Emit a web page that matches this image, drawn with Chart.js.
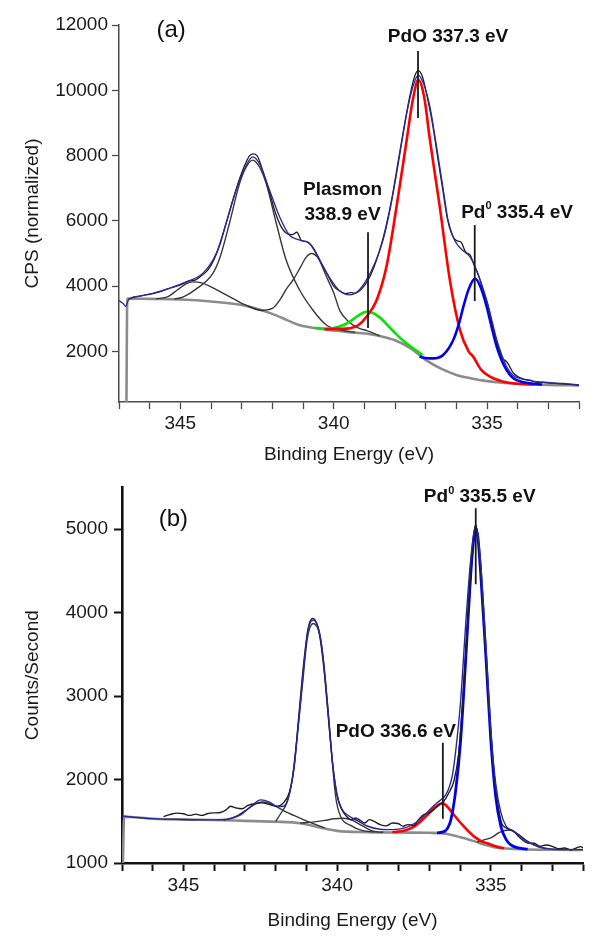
<!DOCTYPE html>
<html>
<head>
<meta charset="utf-8">
<script src="https://cdn.jsdelivr.net/npm/chart.js@4"></script>
<style>
  html, body { margin: 0; padding: 0; background: #fff; }
  #wrap { position: relative; width: 600px; height: 950px; }
  #chartA { position: absolute; left: 0; top: 0; }
  #chartB { position: absolute; left: 0; top: 470px; }
</style>
</head>
<body>
<div id="wrap">
  <canvas id="chartA" width="600" height="470"></canvas>
  <canvas id="chartB" width="600" height="480"></canvas>
</div>
<script>
// ============================================================
// Pd 3d XPS fits, (a) and (b)   -  [eV, counts] pairs
// ============================================================

// ── shared axis values ─────────────────────────────────────
const xTicks  = [347, 346, 345, 344, 343, 342, 341, 340, 339, 338, 337, 336, 335, 334, 333, 332];
const xLabels = [345, 340, 335];
const yTicksA = [2000, 4000, 6000, 8000, 10000, 12000];
const yTicksB = [1000, 2000, 3000, 4000, 5000];

// ── panel (a) ──────────────────────────────────────────────
const rawA = [[346.7,3600],[346.5,3660],[346.2,3720],[345.9,3770],[345.6,3850],[345.3,3950],[345.0,4040],[344.7,4160],[344.5,4190],[344.3,4330],[344.1,4500],[343.9,4820],[343.7,5300],[343.5,5950],[343.3,6600],[343.1,7200],[342.9,7700],[342.75,7980],[342.64,8050],[342.5,8000],[342.3,7500],[342.1,6900],[341.9,6250],[341.7,5800],[341.5,5600],[341.35,5580],[341.2,5650],[341.05,5400],[340.85,5350],[340.65,5150],[340.4,4700],[340.2,4350],[340.0,4000],[339.8,3850],[339.6,3770],[339.45,3800],[339.3,3780],[339.1,3900],[338.9,4150],[338.7,4550],[338.5,5100],[338.3,5800],[338.1,6700],[337.9,7800],[337.7,8900],[337.5,9900],[337.35,10450],[337.24,10600],[337.1,10400],[336.95,9800],[336.8,9100],[336.6,7900],[336.45,7000],[336.3,6100],[336.15,5600],[336.0,5400],[335.85,5350],[335.7,5050],[335.55,4950],[335.4,4600],[335.25,4250],[335.1,3800],[334.95,3350],[334.8,2700],[334.65,2200],[334.5,1780],[334.4,1720],[334.3,1600],[334.15,1350],[334.0,1230],[333.8,1150],[333.6,1120],[333.4,1060],[333.2,1050],[333.0,1040],[332.7,1010],[332.4,1000],[332.0,960]];
const envA = [[347.0,3560],[346.85,3450],[346.78,3380],[346.7,3560],[346.6,3640],[346.3,3700],[345.9,3780],[345.36,3930],[344.81,4130],[344.27,4390],[343.83,5000],[343.51,5920],[343.18,6940],[342.85,7700],[342.64,7960],[342.42,7750],[342.09,6940],[341.76,6120],[341.44,5560],[341.11,5410],[340.78,5300],[340.46,4800],[340.16,4300],[339.8,3850],[339.48,3730],[339.2,3850],[338.93,4190],[338.66,4700],[338.39,5410],[338.15,6400],[337.95,7450],[337.78,8400],[337.62,9280],[337.42,10100],[337.24,10460],[337.05,10150],[336.86,9490],[336.7,8600],[336.54,7650],[336.4,6800],[336.27,6020],[336.1,5500],[335.99,5300],[335.8,5100],[335.56,4900],[335.34,4490],[335.17,4050],[335.01,3570],[334.84,2950],[334.68,2350],[334.52,1900],[334.36,1530],[334.15,1270],[333.92,1170],[333.38,1070],[332.5,1020],[332.01,970]];
const bgA = [[346.76,0],[346.73,3620],[346.0,3610],[345.0,3590],[344.0,3530],[343.0,3420],[342.0,3150],[341.5,2950],[341.1,2800],[340.5,2700],[340.0,2640],[339.5,2590],[338.9,2540],[338.5,2470],[338.0,2340],[337.5,2100],[337.0,1740],[336.5,1470],[336.0,1280],[335.5,1170],[335.0,1090],[334.5,1040],[334.0,1010],[333.0,975],[332.0,960]];
const peakA1 = [[345.8,3610],[345.4,3680],[345.1,3880],[344.8,4080],[344.6,4130],[344.3,4100],[344.0,3980],[343.6,3780],[343.2,3580],[342.9,3430],[342.6,3320],[342.3,3240]];
const peakA2 = [[345.2,3600],[344.9,3670],[344.5,3900],[343.94,4390],[343.7,4900],[343.4,5920],[343.07,7140],[342.85,7650],[342.64,7860],[342.42,7650],[342.2,7140],[341.87,5920],[341.55,4800],[341.11,3880],[340.68,3270],[340.24,2810],[339.8,2660],[339.3,2585]];
const peakA3 = [[342.8,3380],[342.4,3260],[342.0,3320],[341.76,3570],[341.55,3900],[341.33,4180],[341.1,4550],[340.9,4880],[340.73,5000],[340.5,4850],[340.24,4300],[340.0,3800],[339.8,3250],[339.5,2900],[339.2,2720],[338.9,2630],[338.5,2480]];
const plasmonA = [[340.6,2720],[340.3,2700],[340.0,2720],[339.7,2800],[339.4,2960],[339.15,3130],[338.93,3215],[338.7,3170],[338.45,3000],[338.2,2760],[337.95,2520],[337.7,2300],[337.4,2090],[337.1,1890]];
const pdoA = [[340.3,2680],[339.8,2690],[339.48,2705],[339.2,2800],[338.93,3060],[338.6,3570],[338.28,4590],[337.95,6430],[337.62,8470],[337.42,9700],[337.24,10320],[337.05,9800],[336.86,8470],[336.54,6430],[336.21,4180],[335.88,2650],[335.6,2000],[335.45,1840],[335.2,1450],[334.9,1225],[334.46,1070],[334.0,1010],[333.5,990]];
const pd0A = [[337.2,1840],[336.95,1790],[336.75,1785],[336.43,1890],[336.1,2350],[335.9,2900],[335.77,3370],[335.6,3900],[335.39,4235],[335.2,3950],[335.01,3370],[334.85,2750],[334.68,2140],[334.52,1720],[334.36,1430],[334.2,1230],[334.03,1120],[333.6,1020],[333.2,985]];
// marker lines: [eV, top, bottom]
const marksA = [[337.25, 11200, 9150], [338.88, 5650, 2720], [335.4, 5870, 3540]];
// notes: [parts (odd = superscript), eV, counts]
const notesA = [[['PdO 337.3 eV'], 336.27, 11650], [['Plasmon'], 339.71, 6940], [['338.9 eV'], 339.71, 6200], [['Pd', '0', ' 335.4 eV'], 334.02, 6260]];
const tagA = ['(a)', 345.3, 11830];

// ── panel (b) ──────────────────────────────────────────────
const rawB = [[345.65,1556],[345.45,1580],[345.2,1598],[345.0,1590],[344.8,1570],[344.6,1585],[344.4,1570],[344.23,1590],[344.0,1600],[343.8,1605],[343.6,1640],[343.47,1680],[343.3,1660],[343.1,1650],[342.9,1690],[342.7,1710],[342.45,1720],[342.2,1700],[341.95,1680],[341.75,1720],[341.55,1850],[341.4,2150],[341.25,2750],[341.1,3350],[340.95,3800],[340.8,3930],[340.62,3820],[340.45,3400],[340.3,2800],[340.15,2200],[340.0,1800],[339.85,1640],[339.7,1560],[339.55,1520],[339.4,1540],[339.25,1510],[339.1,1480],[338.95,1520],[338.8,1500],[338.6,1460],[338.4,1445],[338.2,1480],[338.0,1470],[337.85,1440],[337.7,1460],[337.5,1450],[337.35,1520],[337.18,1580],[337.0,1600],[336.85,1640],[336.7,1690],[336.53,1740],[336.35,1850],[336.2,1980],[336.05,2300],[335.9,3000],[335.75,3900],[335.6,4700],[335.5,5050],[335.38,4750],[335.25,4000],[335.1,3100],[334.95,2300],[334.8,1780],[334.65,1480],[334.5,1420],[334.4,1400],[334.25,1380],[334.1,1320],[333.95,1270],[333.8,1240],[333.59,1236],[333.4,1200],[333.2,1215],[333.0,1200],[332.8,1170],[332.6,1180],[332.4,1156],[332.25,1175],[332.07,1196],[332.0,1180]];
const envB = [[347.0,1564],[346.5,1545],[346.0,1532],[345.0,1522],[344.0,1517],[343.5,1530],[343.14,1576],[342.8,1680],[342.49,1756],[342.2,1730],[341.95,1676],[341.75,1680],[341.6,1760],[341.41,2120],[341.25,2700],[341.1,3300],[340.95,3780],[340.78,3910],[340.6,3800],[340.45,3450],[340.3,2850],[340.15,2200],[340.0,1820],[339.85,1650],[339.6,1560],[339.3,1500],[339.0,1440],[338.6,1405],[338.2,1400],[337.8,1420],[337.5,1470],[337.25,1540],[337.06,1610],[336.85,1690],[336.65,1750],[336.5,1800],[336.38,1880],[336.25,2050],[336.14,2350],[335.98,2950],[335.81,3900],[335.65,4650],[335.49,5050],[335.33,4600],[335.16,3600],[335.0,2600],[334.84,1950],[334.67,1600],[334.5,1440],[334.35,1400],[334.1,1340],[333.92,1280],[333.6,1220],[333.26,1180],[332.6,1160],[332.0,1160]];
const bgB = [[346.97,1000],[346.93,1555],[346.0,1530],[345.0,1520],[344.0,1515],[343.0,1505],[342.0,1495],[341.2,1476],[340.5,1420],[340.0,1385],[339.0,1370],[338.0,1365],[337.0,1362],[336.6,1356],[336.2,1330],[335.8,1290],[335.5,1256],[335.2,1220],[334.9,1190],[334.6,1176],[334.0,1165],[333.0,1158],[332.0,1155]];
const peakB1 = [[343.7,1512],[343.4,1540],[343.1,1600],[342.9,1650],[342.65,1710],[342.44,1730],[342.2,1715],[341.95,1670],[341.7,1620],[341.41,1570],[341.1,1520],[340.8,1475],[340.4,1420]];
const peakB2 = [[342.0,1500],[341.84,1590],[341.62,1740],[341.46,2010],[341.3,2520],[341.13,3130],[340.97,3690],[340.78,3870],[340.54,3690],[340.37,3130],[340.21,2450],[340.05,1800],[339.89,1560],[339.56,1450],[339.2,1390],[338.8,1372]];
const peakB3 = [[341.2,1480],[340.8,1490],[340.4,1510],[340.1,1530],[339.8,1536],[339.5,1510],[339.2,1450],[338.83,1380],[338.5,1368]];
const peakB4 = [[335.45,1250],[335.2,1280],[335.0,1300],[334.7,1370],[334.4,1396],[334.1,1340],[333.8,1260],[333.5,1200],[333.2,1170]];
const pdoB = [[338.2,1368],[337.8,1390],[337.5,1436],[337.25,1510],[337.06,1576],[336.9,1640],[336.74,1690],[336.56,1716],[336.38,1660],[336.2,1576],[336.03,1500],[335.87,1436],[335.7,1370],[335.54,1316],[335.3,1260],[335.11,1236],[334.85,1200],[334.57,1176]];
const pd0B = [[336.75,1362],[336.52,1376],[336.4,1420],[336.3,1516],[336.14,1876],[335.98,2476],[335.81,3476],[335.65,4476],[335.55,4900],[335.49,5016],[335.42,4900],[335.33,4476],[335.16,3476],[335.0,2476],[334.84,1796],[334.67,1436],[334.5,1280],[334.35,1216],[334.1,1180],[333.8,1165]];
const marksB = [[335.49, 5250, 4340], [336.56, 2440, 1530]];
const notesB = [[['Pd', '0', ' 335.5 eV'], 335.36, 5390], [['PdO 336.6 eV'], 338.09, 2570]];
const tagB = ['(b)', 345.33, 5116];

// ── helpers ────────────────────────────────────────────────
const FONT = '"Liberation Sans", Arial, Helvetica, sans-serif';
Chart.defaults.font.family = FONT;
Chart.defaults.color = '#1a1a1a';

function line(pts, color, width) {
  return {
    data: pts.map(p => ({ x: p[0], y: p[1] })),
    borderColor: color, borderWidth: width,
    pointRadius: 0, fill: false,
    cubicInterpolationMode: 'monotone'
  };
}

// vertical markers + bold notes + panel tag
const notesPlugin = {
  id: 'notes',
  afterDatasetsDraw(chart, args, opts) {
    const { ctx } = chart;
    const xs = chart.scales.x, ys = chart.scales.y;
    ctx.save();
    ctx.strokeStyle = '#1a1a1a';
    ctx.lineWidth = 1.8;
    (opts.marks || []).forEach(([ev, top, bot]) => {
      const px = xs.getPixelForValue(ev);
      ctx.beginPath();
      ctx.moveTo(px, ys.getPixelForValue(top));
      ctx.lineTo(px, ys.getPixelForValue(bot));
      ctx.stroke();
    });
    ctx.fillStyle = '#111';
    ctx.textBaseline = 'middle';
    ctx.textAlign = 'left';
    const big = 'bold 19px ' + FONT, sup = 'bold 11px ' + FONT;
    (opts.notes || []).forEach(([parts, ev, val]) => {
      const widths = parts.map((t, i) => { ctx.font = i % 2 ? sup : big; return ctx.measureText(t).width; });
      let px = xs.getPixelForValue(ev) - widths.reduce((a, b) => a + b, 0) / 2;
      const py = ys.getPixelForValue(val);
      parts.forEach((t, i) => {
        ctx.font = i % 2 ? sup : big;
        ctx.fillText(t, px, i % 2 ? py - 6 : py);
        px += widths[i];
      });
    });
    if (opts.tag) {
      const [t, ev, val] = opts.tag;
      ctx.font = '24px ' + FONT;
      ctx.textAlign = 'center';
      ctx.fillText(t, xs.getPixelForValue(ev), ys.getPixelForValue(val));
    }
    ctx.restore();
  }
};

function makeChart(id, cfg) {
  const axisFont = { size: 19, family: FONT };
  new Chart(document.getElementById(id), {
    type: 'line',
    data: { datasets: cfg.datasets },
    plugins: [notesPlugin],
    options: {
      responsive: false, animation: false,
      layout: { padding: { left: 0, right: cfg.padRight, top: cfg.padTop, bottom: 0 } },
      plugins: { legend: { display: false }, tooltip: { enabled: false }, notes: cfg.notes },
      scales: {
        x: {
          type: 'linear', reverse: true, min: 332, max: 347,
          afterBuildTicks: s => { s.ticks = xTicks.map(v => ({ value: v })); },
          afterFit: s => { s.height = cfg.xHeight; },
          ticks: { autoSkip: false, maxRotation: 0, padding: 3, font: axisFont, color: '#1a1a1a',
                   callback: v => xLabels.includes(v) ? String(v) : '' },
          grid: { drawOnChartArea: false, tickLength: cfg.tickLen, tickColor: cfg.axisColor, tickWidth: cfg.tickWidth },
          border: { color: cfg.axisColor, width: cfg.axisWidth },
          title: { display: true, text: 'Binding Energy (eV)', font: axisFont, color: '#1a1a1a',
                   padding: { top: 0, bottom: cfg.xTitlePad } }
        },
        y: {
          type: 'linear', min: cfg.yMin, max: cfg.yMax,
          afterBuildTicks: s => { s.ticks = cfg.yTicks.map(v => ({ value: v })); },
          afterFit: s => { s.width = cfg.yWidth; },
          ticks: { padding: cfg.yPad, font: axisFont, color: '#1a1a1a', callback: v => String(v) },
          grid: { drawOnChartArea: false, tickLength: cfg.tickLen, tickColor: cfg.axisColor, tickWidth: cfg.tickWidth },
          border: { color: cfg.axisColor, width: cfg.axisWidth },
          title: { display: true, text: cfg.yTitle, font: axisFont, color: '#1a1a1a',
                   padding: { top: 21, bottom: 0 } }
        }
      }
    }
  });
}

// ── panel (a) ──────────────────────────────────────────────
const NAVY = '#27299a', INK = '#1e1e1e', COMP = '#383838', GREY = '#8c8c8c';
makeChart('chartA', {
  datasets: [
    line(envA, NAVY, 1.3),
    line(rawA, INK, 1.3),
    line(pd0A, '#0000f0', 2.6),
    line(pdoA, '#ff0000', 2.6),
    line(plasmonA, '#00e600', 2.6),
    line(peakA3, COMP, 1.4),
    line(peakA2, COMP, 1.4),
    line(peakA1, COMP, 1.4),
    line(bgA, GREY, 2.6)
  ],
  notes: { marks: marksA, notes: notesA, tag: tagA },
  padRight: 21, padTop: 25, xHeight: 68, xTitlePad: 4, yWidth: 119, yPad: 4,
  tickLen: 7, tickWidth: 1.3, axisColor: '#4a4a4a', axisWidth: 1.5,
  yMin: 450, yMax: 12000, yTicks: yTicksA, yTitle: 'CPS (normalized)'
});

// ── panel (b) ──────────────────────────────────────────────
makeChart('chartB', {
  datasets: [
    line(envB, NAVY, 1.4),
    line(rawB, INK, 1.4),
    line(pd0B, '#0000f0', 2.8),
    line(pdoB, '#ff0000', 2.6),
    line(peakB4, COMP, 1.4),
    line(peakB3, COMP, 1.4),
    line(peakB2, COMP, 1.4),
    line(peakB1, COMP, 1.4),
    line(bgB, GREY, 2.6)
  ],
  notes: { marks: marksB, notes: notesB, tag: tagB },
  padRight: 17, padTop: 17, xHeight: 87, xTitlePad: 18, yWidth: 122, yPad: 6,
  tickLen: 8, tickWidth: 2, axisColor: '#111', axisWidth: 2.6,
  yMin: 1000, yMax: 5500, yTicks: yTicksB, yTitle: 'Counts/Second'
});
</script>
</body>
</html>
